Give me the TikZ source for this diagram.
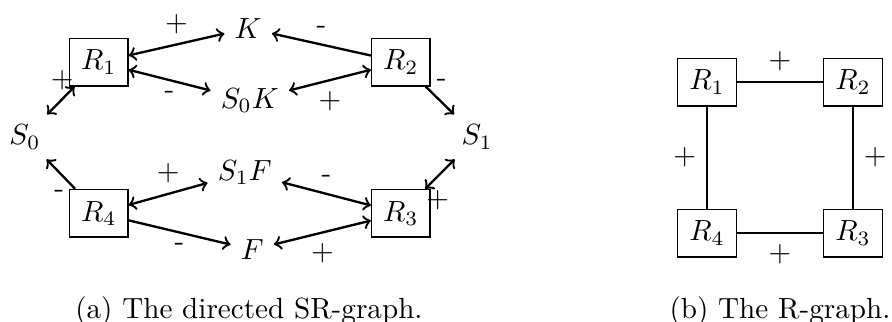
\documentclass[tikz,border=0pt]{standalone}
\usepackage{mathtools}
\usetikzlibrary{positioning, arrows.meta, calc}

\begin{document}
\begin{tikzpicture}[x=1cm, y=1cm, >=to,
	rbox/.style={draw, inner sep=4pt},
	link/.style={thick}]
	\useasboundingbox (0,0) rectangle (10.75,3.88);
	% (a) directed SR-graph
	\node[rbox] (R1) at (1.19,3.13) {$R_1$};
	\node[rbox] (R2) at (4.83,3.13) {$R_2$};
	\node[rbox] (R3) at (4.83,1.31) {$R_3$};
	\node[rbox] (R4) at (1.19,1.31) {$R_4$};
	\node (K)   at (2.99,3.54) {$K$};
	\node (S0K) at (3.01,2.67) {$S_0K$};
	\node (S1F) at (2.95,1.80) {$S_1F$};
	\node (F)   at (3.04,0.87) {$F$};
	\node (S0)  at (0.30,2.23) {$S_0$};
	\node (S1)  at (5.75,2.23) {$S_1$};
	\draw[<->, link] (R1) -- node[above] {+} (K);
	\draw[<->, link] (R1) -- node[below] {-} (S0K);
	\draw[<->, link] (R1) -- node[pos=0, anchor=south east, inner sep=0pt, yshift=-0.5mm] {+} (S0);
	\draw[->, link] (R2) -- node[above] {-} (K);
	\draw[<->, link] (R2) -- node[below] {+} (S0K);
	\draw[->, link] (R2) -- node[pos=0, anchor=west, inner sep=0pt, xshift=1.2mm, yshift=0.4mm] {-} (S1);
	\draw[->, link] (R4) -- node[pos=0, anchor=north east, inner sep=0pt, xshift=-1.2mm] {-} (S0);
	\draw[<->, link] (R4) -- node[above] {+} (S1F);
	\draw[->, link] (R4) -- node[below] {-} (F);
	\draw[<->, link] (R3) -- node[above] {-} (S1F);
	\draw[<->, link] (R3) -- node[below] {+} (F);
	\draw[<->, link] (R3) -- node[pos=0, anchor=north west, inner sep=0pt] {+} (S1);
	\node (capa) at (3.0,0.13) {(a) The directed SR-graph.};
	% (b) R-graph
	\node[rbox] (r1) at (8.52,2.89) {$R_1$};
	\node[rbox] (r2) at (10.28,2.89) {$R_2$};
	\node[rbox] (r3) at (10.28,1.07) {$R_3$};
	\node[rbox] (r4) at (8.52,1.07) {$R_4$};
	\draw[link] (r1) -- node[above] {+} (r2);
	\draw[link] (r2) -- node[right] {+} (r3);
	\draw[link] (r3) -- node[below] {+} (r4);
	\draw[link] (r4) -- node[left] {+} (r1);
	\node (capb) at (9.40,0.13) {(b) The R-graph.};
\end{tikzpicture}
\end{document}
